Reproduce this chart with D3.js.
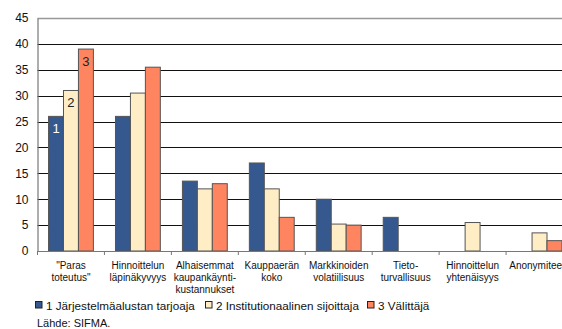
<!DOCTYPE html>
<html>
<head>
<meta charset="utf-8">
<script src="https://cdn.jsdelivr.net/npm/d3@7"></script>
<style>
  html, body { margin: 0; padding: 0; background: #fff; overflow: hidden; }
  svg { display: block; font-family: "Liberation Sans", Arial, sans-serif; }
</style>
</head>
<body>
<svg id="chart" width="562" height="329"></svg>
<script>
// Categories (multi-line labels)
const categories = [
  ["\"Paras", "toteutus\""],
  ["Hinnoittelun", "läpinäkyvyys"],
  ["Alhaisemmat", "kaupankäynti-", "kustannukset"],
  ["Kauppaerän", "koko"],
  ["Markkinoiden", "volatiilisuus"],
  ["Tieto-", "turvallisuus"],
  ["Hinnoittelun", "yhtenäisyys"],
  ["Anonymiteetti"]
];
const seriesNames = ["1 Järjestelmäalustan tarjoaja", "2 Institutionaalinen sijoittaja", "3 Välittäjä"];
const platform      = [26, 26, 13.5, 17, 10, 6.5, 0, 0];
const institutional = [31, 30.5, 12, 12, 5.2, 0, 5.5, 3.5];
const broker        = [39, 35.5, 13, 6.5, 5, 0, 0, 2];
const barLabels = ["1", "2", "3"];
const yTicks = [0, 5, 10, 15, 20, 25, 30, 35, 40, 45];
const sourceText = "Lähde: SIFMA.";

const series = [platform, institutional, broker];
const colors = ["#35598F", "#FFEDC6", "#FF8460"];
const labelColors = ["#ffffff", "#222222", "#222222"];

const svg = d3.select("#chart");
// the plot runs past the right edge of the canvas, so the last group is cut
const m = { left: 37.5, top: 18, right: -11, bottom: 78 };
const W = 562, H = 329;
const plotW = W - m.left - m.right;
const plotH = H - m.top - m.bottom;

const g = svg.append("g").attr("transform", `translate(${m.left},${m.top})`);

const x0 = d3.scaleBand().domain(d3.range(categories.length)).range([0, plotW]).paddingInner(0.33).paddingOuter(0.165);
const x1 = d3.scaleBand().domain(d3.range(series.length)).range([0, x0.bandwidth()]);
const step = plotW / categories.length;
const y = d3.scaleLinear().domain([0, 45]).range([plotH, 0]);

// gridlines
g.selectAll("line.grid").data(yTicks.filter(t => t > 0 && t < 45)).join("line")
  .attr("x1", 0).attr("x2", plotW)
  .attr("y1", d => Math.round(y(d)) + 0.5).attr("y2", d => Math.round(y(d)) + 0.5)
  .attr("stroke", "#111").attr("stroke-width", 1);
// top border
g.append("line").attr("x1", 0).attr("x2", plotW)
  .attr("y1", y(45) + 0.5).attr("y2", y(45) + 0.5)
  .attr("stroke", "#999").attr("stroke-width", 1.5);

// bars
series.forEach((vals, si) => {
  g.selectAll(`rect.s${si}`).data(vals.map((v, i) => ({ v, i }))).join("rect")
    .filter(d => d.v > 0)
    .attr("x", d => x0(d.i) + x1(si))
    .attr("y", d => y(d.v))
    .attr("width", x1.bandwidth())
    .attr("height", d => y(0) - y(d.v))
    .attr("fill", colors[si])
    .attr("stroke", "#555")
    .attr("stroke-width", 1);
});

// series markers inside first group
series.forEach((vals, si) => {
  g.append("text")
    .attr("x", x0(0) + x1(si) + x1.bandwidth() / 2)
    .attr("y", y(vals[0]) + 17)
    .attr("text-anchor", "middle")
    .attr("font-size", 13)
    .attr("fill", labelColors[si])
    .text(barLabels[si]);
});

// y axis
const yAxis = d3.axisLeft(y).tickValues(yTicks).tickSize(0).tickPadding(9);
const ya = g.append("g").call(yAxis);
ya.select(".domain").attr("stroke", "#777").attr("stroke-width", 1.2);
ya.selectAll("text").attr("font-size", 12).attr("fill", "#111").attr("font-family", "Liberation Sans, Arial, sans-serif");

// x axis
const xa = g.append("g").attr("transform", `translate(0,${plotH})`);
xa.append("line").attr("x1", 0).attr("x2", plotW).attr("y1", 0.5).attr("y2", 0.5).attr("stroke", "#777").attr("stroke-width", 1.2);
xa.selectAll("line.tick").data(d3.range(categories.length + 1)).join("line")
  .attr("x1", d => d * step).attr("x2", d => d * step)
  .attr("y1", 0).attr("y2", 4).attr("stroke", "#777");
categories.forEach((lines, i) => {
  const t = xa.append("text")
    .attr("x", x0(i) + x0.bandwidth() / 2)
    .attr("y", 18)
    .attr("text-anchor", "middle")
    .attr("font-size", 10)
    .attr("fill", "#111");
  lines.forEach((ln, k) => {
    t.append("tspan").attr("x", x0(i) + x0.bandwidth() / 2).attr("dy", k === 0 ? 0 : 12).text(ln);
  });
});

// legend
const legendX = [35, 205, 367];
const leg = svg.append("g").attr("transform", "translate(0,305)");
seriesNames.forEach((name, i) => {
  leg.append("rect").attr("x", legendX[i] + 0.5).attr("y", -3.5).attr("width", 6.5).attr("height", 6.5)
    .attr("fill", colors[i]).attr("stroke", "#222").attr("stroke-width", 1);
  leg.append("text").attr("x", legendX[i] + 11).attr("y", 4.5).attr("font-size", 11.7).attr("fill", "#111").text(name);
});

// source
svg.append("text").attr("x", 37).attr("y", 327).attr("font-size", 11).attr("fill", "#111").text(sourceText);
</script>
</body>
</html>
